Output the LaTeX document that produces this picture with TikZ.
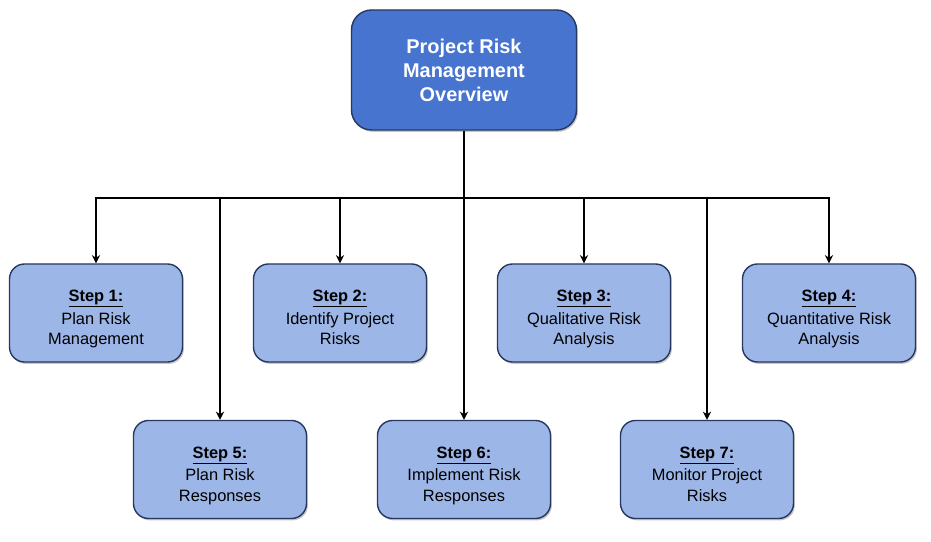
\documentclass[tikz,border=0pt]{standalone}
\usepackage{fontspec}
\setmainfont{Liberation Sans}
\usepackage{tikz}
\usetikzlibrary{arrows.meta, positioning, calc, shadows}

\definecolor{mainblue}{RGB}{70,116,206}
\definecolor{stepblue}{RGB}{157,182,232}
\definecolor{edgeblue}{RGB}{38,56,96}

% title line, then two text lines
\newcommand{\steptext}[3]{\rule{0pt}{22.5pt}\underline{\textbf{#1}}\\[2pt]#2\\#3\strut}

\begin{document}
\begin{tikzpicture}[>={Stealth[length=7pt,width=7pt]},
		mainbox/.style={draw=edgeblue, line width=1.2pt, rounded corners=0.6cm, fill=mainblue, text=white, minimum width=6.75cm, minimum height=3.6cm, align=center, font=\fontsize{17}{20.4}\selectfont\bfseries, drop shadow={opacity=0.45, shadow xshift=1.2pt, shadow yshift=-1.6pt}},
		stepbox/.style={draw=edgeblue, line width=1.2pt, rounded corners=0.45cm, fill=stepblue, minimum width=5.19cm, minimum height=2.94cm, align=center, font=\fontsize{14}{17.4}\selectfont, drop shadow={opacity=0.45, shadow xshift=1.2pt, shadow yshift=-1.6pt}},
		link/.style={->, line width=1pt}]
				\useasboundingbox (0,0) rectangle (27.93,16.26);
				
				\node[mainbox] (overview) at (13.92,14.16) {Project Risk\\Management\\Overview};
				\coordinate (bus) at (13.92,10.32);
				
				% first row
				\node[stepbox] (step1) at (2.88,6.87) {\steptext{Step 1:}{Plan Risk}{Management}};
				\node[stepbox] (step2) at (10.2,6.87) {\steptext{Step 2:}{Identify Project}{Risks}};
				\node[stepbox] (step3) at (17.52,6.87) {\steptext{Step 3:}{Qualitative Risk}{Analysis}};
				\node[stepbox] (step4) at (24.87,6.87) {\steptext{Step 4:}{Quantitative Risk}{Analysis}};
				
				% second row
				\node[stepbox] (step5) at (6.6,2.175) {\steptext{Step 5:}{Plan Risk}{Responses}};
				\node[stepbox] (step6) at (13.92,2.175) {\steptext{Step 6:}{Implement Risk}{Responses}};
				\node[stepbox] (step7) at (21.21,2.175) {\steptext{Step 7:}{Monitor Project}{Risks}};
				
				\draw[line width=1pt] (overview.south) -- (bus);
				\foreach \s in {1,...,7}
					\draw[link] (bus) -| (step\s.north);
			\end{tikzpicture}
\end{document}
